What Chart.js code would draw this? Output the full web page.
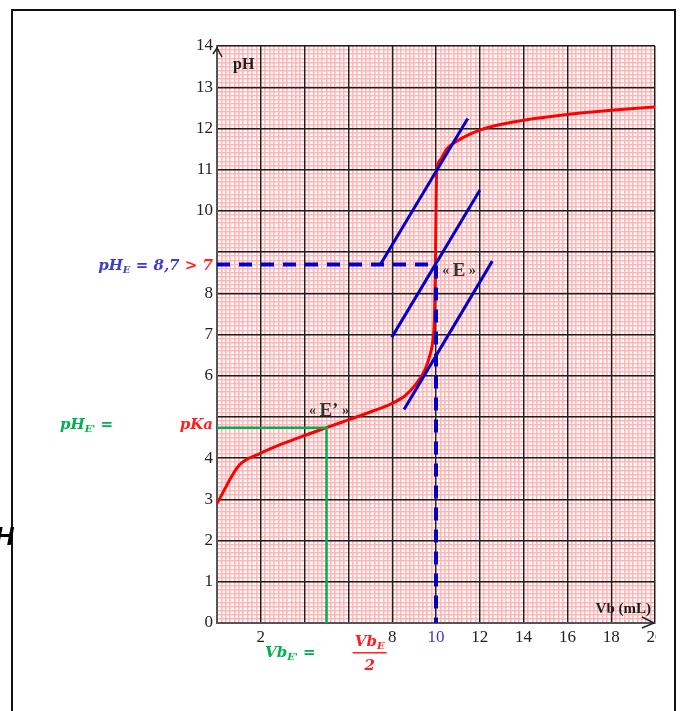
<!DOCTYPE html>
<html>
<head>
<meta charset="UTF-8">
<title>Dosage pH = f(Vb)</title>
<script src="https://cdn.jsdelivr.net/npm/chart.js"></script>
<style>
  body { margin: 0; padding: 0; background: white; }
  #cadre { position: relative; width: 681px; height: 711px; }
</style>
</head>
<body>
<div id="cadre"><canvas id="courbe"></canvas></div>
<script>
// volume de base versé (mL) et pH
const vb = [0, 1, 2, 3, 4, 5, 6, 7, 8, 8.6, 9.1, 9.5, 9.7, 9.86, 9.93, 9.97, 10.0, 10.03, 10.18, 10.49, 10.95, 11.5, 12, 13, 14, 16, 18, 20];
const ph = [2.9, 3.82, 4.12, 4.35, 4.55, 4.74, 4.93, 5.12, 5.33, 5.52, 5.81, 6.15, 6.46, 6.86, 7.4, 8.5, 10.0, 10.95, 11.23, 11.5, 11.69, 11.85, 11.96, 12.1, 12.2, 12.34, 12.44, 12.52];

// les trois tangentes parallèles
const tangHautVb = [7.44, 11.45];
const tangHautPh = [8.68, 12.24];
const tangMilieuVb = [7.98, 12.0];
const tangMilieuPh = [6.93, 10.5];
const tangBasVb = [8.54, 12.57];
const tangBasPh = [5.18, 8.78];

// point d'équivalence E et demi-équivalence E'
const vbE = 10, phE = 8.7;
const vbDemi = 5, pKa = 4.74;

const etiquettesX = [2, 8, 10, 12, 14, 16, 18, 20];
const etiquettesY = [0, 1, 2, 3, 4, 6, 7, 8, 10, 11, 12, 13, 14];

const ROSE = 'rgb(255,182,182)';
const NOIR = '#1e1e1e';
const BLEU = '#0000c8';
const BLEU_TXT = '#3c3ccc';
const ROUGE_TXT = '#ff1f1f';
const VERT = '#00b050';
const MATH = "italic bold 15px 'DejaVu Serif'";
const MATH_IND = "italic bold 10px 'DejaVu Serif'";
const SERIF = "'Liberation Serif'";

function points(xs, ys) { return xs.map((x, i) => ({ x: x, y: ys[i] })); }

function ecrire(ctx, morceaux, x, y, align) {
  let larg = 0;
  morceaux.forEach(m => { ctx.font = m[1]; larg += ctx.measureText(m[0]).width; });
  let cx = align === 'right' ? x - larg : (align === 'center' ? x - larg / 2 : x);
  ctx.textAlign = 'left';
  ctx.textBaseline = 'alphabetic';
  morceaux.forEach(m => {
    ctx.font = m[1];
    ctx.fillStyle = m[2];
    ctx.fillText(m[0], cx, y + (m[3] || 0));
    cx += ctx.measureText(m[0]).width;
  });
}

const habillage = {
  id: 'habillage',
  beforeDraw(chart) {
    const ctx = chart.ctx;
    ctx.save();
    ctx.strokeStyle = '#111';
    ctx.lineWidth = 2;
    ctx.strokeRect(12, 10, 663, 760);
    ctx.restore();
  },
  afterDraw(chart) {
    const ctx = chart.ctx;
    const sx = chart.scales.x, sy = chart.scales.y;
    const a = chart.chartArea;
    ctx.save();

    // "20" coupé par le bord
    ctx.fillStyle = 'white';
    ctx.fillRect(a.right + 1, a.bottom + 4, 16, 24);

    // flèches des axes
    ctx.strokeStyle = '#222';
    ctx.lineWidth = 1.5;
    ctx.beginPath();
    ctx.moveTo(a.left - 4, a.top + 8);
    ctx.lineTo(a.left, a.top + 2);
    ctx.lineTo(a.left + 5, a.top + 11);
    ctx.moveTo(a.right - 13, a.bottom - 6);
    ctx.lineTo(a.right - 1, a.bottom);
    ctx.lineTo(a.right - 13, a.bottom + 5);
    ctx.stroke();

    // titres des axes
    ecrire(ctx, [['pH', "bold 16px " + SERIF, NOIR]], a.left + 16, a.top + 23, 'left');
    ecrire(ctx, [['Vb (mL)', "bold 15px " + SERIF, NOIR]], a.right - 4, a.bottom - 10, 'right');

    // points E et E'
    const g = "bold 14px " + SERIF, gE = "bold 19px " + SERIF;
    const pE = [sx.getPixelForValue(11.05), sy.getPixelForValue(8.56)];
    ecrire(ctx, [['« ', g, '#333', -1], ['E', gE, '#333'], [' »', g, '#333', -1]], pE[0], pE[1] + 6, 'center');
    const pE2 = [sx.getPixelForValue(5.11), sy.getPixelForValue(5.16)];
    ecrire(ctx, [['« ', g, '#333', -1], ['E’', gE, '#333'], [' »', g, '#333', -1]], pE2[0], pE2[1] + 6, 'center');

    // pH à l'équivalence
    const yE = sy.getPixelForValue(phE);
    ecrire(ctx, [['pH', MATH, BLEU_TXT], ['E', MATH_IND, BLEU_TXT, 3], [' = 8,7', MATH, BLEU_TXT], [' > 7', MATH, ROUGE_TXT]], a.left - 4, yE + 6, 'right');

    // demi-équivalence
    const yK = sy.getPixelForValue(pKa);
    ecrire(ctx, [['pH', MATH, VERT], ['E\'', MATH_IND, VERT, 3], [' =', MATH, VERT]], 60, yK + 1, 'left');
    ecrire(ctx, [['pKa', MATH, ROUGE_TXT]], a.left - 4, yK + 1, 'right');

    ecrire(ctx, [['Vb', MATH, VERT], ['E\'', MATH_IND, VERT, 3], [' =', MATH, VERT]], 265, a.bottom + 34, 'left');
    const xF = sx.getPixelForValue(6.97);
    ecrire(ctx, [['Vb', MATH, ROUGE_TXT], ['E', MATH_IND, ROUGE_TXT, 3]], xF, a.bottom + 23, 'center');
    ctx.fillStyle = ROUGE_TXT;
    ctx.fillRect(xF - 17, a.bottom + 29, 34, 1.5);
    ecrire(ctx, [['2', MATH, ROUGE_TXT]], xF, a.bottom + 47, 'center');

    // reste d'un texte coupé à gauche
    ecrire(ctx, [['H', "italic bold 26px 'Liberation Sans'", '#000']], -5, 545, 'left');

    ctx.restore();
  }
};

// axe secondaire invisible qui ne sert qu'au quadrillage millimétré
function axeMillimetre(min, max, pas, position) {
  return {
    type: 'linear', min: min, max: max, position: position,
    afterFit: s => { if (position === 'bottom') s.height = 0; else s.width = 0; },
    border: { display: false },
    grid: { drawTicks: false, color: ROSE, lineWidth: 1.6, z: -2 },
    ticks: { stepSize: pas, autoSkip: false, display: false }
  };
}

new Chart(document.getElementById('courbe'), {
  type: 'line',
  data: {
    datasets: [
      { data: points([0, vbE, vbE], [phE, phE, 0]), borderColor: BLEU, borderWidth: 4, borderDash: [13, 9], pointRadius: 0, tension: 0, order: 0 },
      { data: points(tangHautVb, tangHautPh), borderColor: BLEU, borderWidth: 3, pointRadius: 0, order: 1 },
      { data: points(tangMilieuVb, tangMilieuPh), borderColor: BLEU, borderWidth: 3, pointRadius: 0, order: 1 },
      { data: points(tangBasVb, tangBasPh), borderColor: BLEU, borderWidth: 3, pointRadius: 0, order: 1 },
      { data: points([0, vbDemi, vbDemi], [pKa, pKa, 0]), borderColor: VERT, borderWidth: 2.5, pointRadius: 0, order: 2 },
      { data: points(vb, ph), borderColor: '#ff0000', borderWidth: 3, pointRadius: 0, cubicInterpolationMode: 'monotone', order: 3 }
    ]
  },
  options: {
    responsive: true,
    maintainAspectRatio: false,
    animation: false,
    events: [],
    layout: { padding: { left: 0, top: 46, right: 26, bottom: 0 } },
    plugins: { legend: { display: false }, tooltip: { enabled: false } },
    scales: {
      xmm: axeMillimetre(0, 20, 0.2, 'bottom'),
      ymm: axeMillimetre(0, 14, 0.1, 'left'),
      x: {
        type: 'linear', min: 0, max: 20, position: 'bottom',
        afterFit: s => { s.height = 88; },
        border: { color: '#555', width: 2 },
        grid: { drawTicks: false, color: NOIR, lineWidth: 1.4 },
        ticks: {
          stepSize: 2, autoSkip: false, maxRotation: 0, padding: 4,
          font: { family: SERIF, size: 17 },
          color: c => c.tick.value === vbE ? BLEU_TXT : '#222',
          callback: v => etiquettesX.includes(v) ? String(v) : ''
        }
      },
      y: {
        type: 'linear', min: 0, max: 14, position: 'left',
        afterFit: s => { s.width = 217; },
        border: { color: '#555', width: 2 },
        grid: { drawTicks: false, color: NOIR, lineWidth: 1.4 },
        ticks: {
          stepSize: 1, autoSkip: false, padding: 4,
          font: { family: SERIF, size: 17 },
          color: '#222',
          callback: v => etiquettesY.includes(v) ? String(v) : ''
        }
      }
    }
  },
  plugins: [habillage]
});
</script>
</body>
</html>
